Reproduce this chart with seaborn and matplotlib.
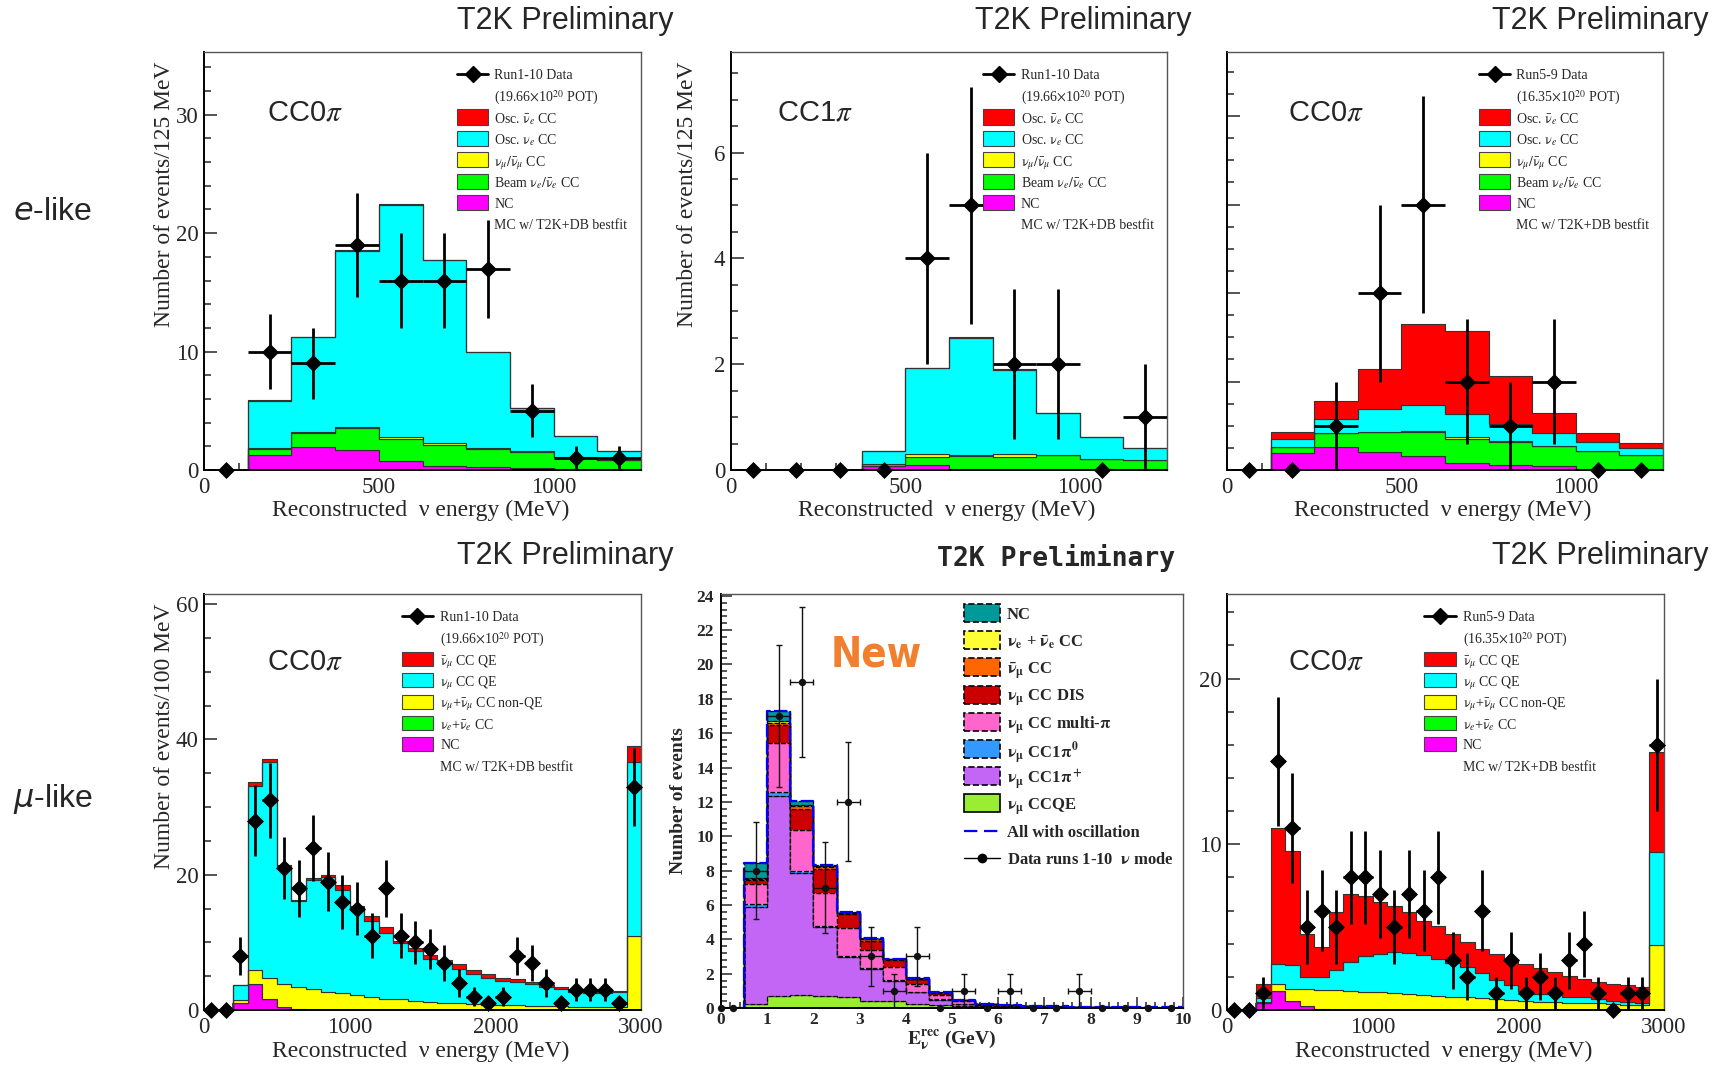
#!/usr/bin/env python3

import matplotlib
matplotlib.use("Agg")
import matplotlib.pyplot as plt
from matplotlib import font_manager
from matplotlib.lines import Line2D
from matplotlib.patches import Rectangle
from matplotlib.ticker import MultipleLocator, NullFormatter
import numpy as np
import pandas as pd
import seaborn as sns

SERIF = ["Liberation Serif", "DejaVu Serif"]
SANS = ["Liberation Sans", "DejaVu Sans"]

# ROOT colours
RED, CYAN, YELLOW, GREEN, MAGENTA = "#ff0000", "#00ffff", "#ffff00", "#00ff00", "#ff00ff"

# ------------------------------------------------------------ e-like samples
e_edges = np.arange(0, 1251, 125)  # MeV, 125 MeV bins

# CC0pi, neutrino mode (Run1-10); MC layers listed top -> bottom
e0_data = [0, 10, 9, 19, 16, 16, 17, 5, 1, 1]
e0_osc_nuebar = [0, 0.02, 0.03, 0.05, 0.05, 0.04, 0.03, 0.02, 0.01, 0.01]
e0_osc_nue = [0, 4.02, 8.0, 14.87, 19.6, 15.45, 8.09, 3.61, 1.72, 0.73]
e0_numu = [0, 0.03, 0.05, 0.08, 0.15, 0.15, 0.06, 0.04, 0.03, 0.02]
e0_beam = [0, 0.55, 1.25, 1.85, 1.85, 1.75, 1.58, 1.4, 1.0, 0.8]
e0_nc = [0, 1.25, 1.9, 1.7, 0.8, 0.35, 0.22, 0.15, 0.1, 0.05]

# CC1pi, neutrino mode (Run1-10)
e1_data = [0, 0, 0, 0, 4, 5, 2, 2, 0, 1]
e1_osc_nuebar = [0, 0, 0, 0, 0.01, 0.01, 0.01, 0.0, 0.0, 0.0]
e1_osc_nue = [0, 0, 0, 0.24, 1.62, 2.22, 1.59, 0.78, 0.43, 0.23]
e1_numu = [0, 0, 0, 0.0, 0.06, 0.02, 0.05, 0.01, 0.0, 0.0]
e1_beam = [0, 0, 0, 0.04, 0.15, 0.24, 0.24, 0.27, 0.19, 0.17]
e1_nc = [0, 0, 0, 0.08, 0.09, 0.02, 0.01, 0.01, 0.01, 0.01]

# CC0pi, antineutrino mode (Run5-9)
eb_data = [0, 0, 1, 4, 6, 2, 1, 2, 0, 0]
eb_osc_nuebar = [0, 0.15, 0.41, 0.92, 1.82, 1.88, 1.08, 0.44, 0.2, 0.13]
eb_osc_nue = [0, 0.18, 0.32, 0.51, 0.58, 0.51, 0.4, 0.3, 0.2, 0.15]
eb_numu = [0, 0.0, 0.0, 0.0, 0.03, 0.04, 0.01, 0.0, 0.0, 0.0]
eb_beam = [0, 0.15, 0.32, 0.45, 0.54, 0.56, 0.53, 0.46, 0.41, 0.32]
eb_nc = [0, 0.38, 0.51, 0.41, 0.32, 0.15, 0.11, 0.08, 0.03, 0.02]

# ------------------------------------------------------------ mu-like samples
m_edges = np.arange(0, 3001, 100)  # MeV, 100 MeV bins, last bin = overflow

# neutrino mode (Run1-10)
mn_data = [0, 0, 8, 28, 31, 21, 18, 24, 19, 16, 15, 11, 18, 11, 10,
           9, 7, 4, 2, 1, 2, 8, 7, 4, 1, 3, 3, 3, 1, 33]
mn_numubar_qe = [0, 0, 0, 0.6, 0.4, 0.1, 0.1, 0.3, 0.4, 0.8, 0.5, 0.8, 0.9, 0.3, 0.3,
                 0.7, 0.5, 0.75, 0.5, 0.6, 0.5, 0.4, 0.3, 0.25, 0.25, 0.25, 0.25, 0.25, 0.2, 2.4]
mn_numu_qe = [0, 0, 2.2, 27.2, 32.0, 17.45, 12.75, 16.05, 16.9, 15.25, 12.7, 11.1, 9.7, 8.3, 7.4,
              6.3, 5.8, 5.0, 4.5, 4.0, 3.55, 3.5, 3.15, 2.85, 2.55, 2.2, 2.1, 2.05, 2.2, 25.8]
mn_nonqe = [0, 0, 0.4, 2.05, 3.1, 3.35, 3.15, 3.1, 2.68, 2.45, 2.2, 2.0, 1.7, 1.6, 1.4,
            1.2, 1.1, 1.0, 0.9, 0.8, 0.75, 0.7, 0.65, 0.6, 0.55, 0.5, 0.45, 0.4, 0.4, 10.9]
mn_nue = [0] * 30
mn_nc = [0, 0, 1.1, 3.85, 1.6, 0.5, 0.2, 0.05, 0.02] + [0] * 21

# antineutrino mode (Run5-9)
mb_data = [0, 0, 1, 15, 11, 5, 6, 5, 8, 8, 7, 5, 7, 6, 8,
           3, 2, 6, 1, 3, 1, 2, 1, 3, 4, 1, 0, 1, 1, 16]
mb_numubar_qe = [0, 0, 0.87, 8.2, 6.9, 2.63, 1.83, 3.5, 4.1, 3.65, 3.1, 2.8, 2.45, 2.1, 2.05,
                 1.75, 1.5, 1.45, 1.6, 1.55, 1.63, 1.6, 1.35, 1.25, 1.07, 1.02, 1.04, 1.0, 0.97, 6.05]
mb_numu_qe = [0, 0, 0.2, 1.23, 1.45, 0.72, 0.77, 1.2, 1.73, 2.15, 2.33, 2.5, 2.5, 2.4, 2.2,
              2.05, 1.84, 1.55, 1.14, 0.9, 0.62, 0.45, 0.45, 0.35, 0.35, 0.25, 0.21, 0.2, 0.1, 5.65]
mb_nonqe = [0, 0, 0.1, 0.4, 0.69, 1.01, 1.15, 1.18, 1.17, 1.1, 1.07, 1.0, 0.95, 0.9, 0.85,
            0.8, 0.76, 0.7, 0.66, 0.6, 0.55, 0.5, 0.5, 0.45, 0.45, 0.4, 0.35, 0.3, 0.3, 3.9]
mb_nue = [0] * 30
mb_nc = [0, 0, 0.4, 1.17, 0.56, 0.24, 0.05, 0.02] + [0] * 22

# ------------------------------------------------------------ new numu sample (GeV)
n_edges = np.arange(0, 10.01, 0.5)
n_data_e = [0.0, 0.25, 0.75, 1.25, 1.75, 2.25, 2.75, 3.25, 3.75, 4.25, 4.75,
            5.25, 5.75, 6.25, 6.75, 7.25, 7.75, 8.25, 8.75, 9.25, 9.75]
n_data = [0, 0, 8, 17, 19, 7, 12, 3, 1, 3, 0, 1, 0, 1, 0, 0, 1, 0, 0, 0, 0]
n_nc = [0, 0.87, 0.57, 0.27, 0.06, 0.02, 0.05, 0.02, 0.03, 0.03, 0.02,
        0.02, 0.02, 0.02, 0.02, 0.02, 0.01, 0.01, 0.01, 0.01]
n_nue = [0, 0.04, 0.1, 0.06, 0.04, 0.04, 0.02, 0.01, 0.01, 0.01, 0,
         0, 0, 0, 0, 0, 0, 0, 0, 0]
n_numubar = [0, 0.06, 0.1, 0.14, 0.1, 0.07, 0.07, 0.03, 0.03, 0.02, 0.01,
             0.01, 0.01, 0, 0, 0, 0, 0, 0, 0]
n_dis = [0, 0.23, 1.07, 1.23, 1.4, 0.8, 0.58, 0.43, 0.26, 0.13, 0.06,
         0.04, 0.03, 0.02, 0.02, 0.01, 0.01, 0.01, 0, 0]
n_multipi = [0, 1.16, 2.83, 2.37, 1.9, 1.63, 1.01, 0.73, 0.46, 0.24, 0.17,
             0.08, 0.06, 0.03, 0.02, 0.01, 0.01, 0.01, 0.01, 0.01]
n_1pi0 = [0, 0.17, 0.24, 0.15, 0.1, 0.05, 0.05, 0.05, 0.02, 0.02, 0.01,
          0, 0, 0, 0, 0, 0, 0, 0, 0]
n_1pip = [0, 5.65, 11.66, 7.11, 4.02, 2.33, 1.89, 1.21, 0.68, 0.33, 0.11,
          0.04, 0.03, 0.02, 0.02, 0.01, 0.01, 0.01, 0.01, 0.01]
n_ccqe = [0, 0.25, 0.7, 0.74, 0.68, 0.64, 0.4, 0.39, 0.25, 0.15, 0.1,
          0.06, 0.05, 0.03, 0.02, 0.02, 0.01, 0.01, 0.01, 0.01]

E_COLORS = [RED, CYAN, YELLOW, GREEN, MAGENTA]
E_LABELS = [r"Osc. $\bar{\mathrm{\nu}}_e$ CC", r"Osc. $\mathrm{\nu}_e$ CC",
            r"$\mathrm{\nu}_\mu/\bar{\mathrm{\nu}}_\mu$ CC",
            r"Beam $\mathrm{\nu}_e/\bar{\mathrm{\nu}}_e$ CC", "NC"]
M_LABELS = [r"$\bar{\mathrm{\nu}}_\mu$ CC QE", r"$\mathrm{\nu}_\mu$ CC QE",
            r"$\mathrm{\nu}_\mu$+$\bar{\mathrm{\nu}}_\mu$ CC non-QE",
            r"$\mathrm{\nu}_e$+$\bar{\mathrm{\nu}}_e$ CC", "NC"]
N_COLORS = ["#009999", "#ffff33", "#ff6600", "#cc0000", "#ff66cc", "#3399ff", "#c466f5", "#99ee33"]
N_LABELS = ["NC", r"$\mathbf{\nu_e}$ + $\mathbf{\bar{\nu}_e}$ CC", r"$\mathbf{\bar{\nu}_\mu}$ CC",
            r"$\mathbf{\nu_\mu}$ CC DIS", r"$\mathbf{\nu_\mu}$ CC multi-$\mathbf{\pi}$",
            r"$\mathbf{\nu_\mu}$ CC1$\mathbf{\pi^0}$", r"$\mathbf{\nu_\mu}$ CC1$\mathbf{\pi^+}$",
            r"$\mathbf{\nu_\mu}$ CCQE"]

WEIGHTS = {"bold": 700, "semibold": 600, "demibold": 600, "heavy": 800, "black": 900,
           "extra bold": 800, "ultrabold": 800}


def narrow_font():
    # the "New" stamp is a bold condensed sans; use one if the machine has it
    cands = []
    for f in font_manager.fontManager.ttflist:
        w = f.weight if isinstance(f.weight, int) else WEIGHTS.get(str(f.weight).lower(), 400)
        narrow = ("Narrow" in f.name or "Condensed" in f.name
                  or str(f.stretch) in ("condensed", "semi-condensed", "extra-condensed"))
        if narrow:
            cands.append((w >= 600, f))
    cands.sort(key=lambda c: not c[0])
    if cands:
        f = cands[0][1]
        return {"family": f.name, "fontstretch": f.stretch}, 30
    return {"family": "DejaVu Sans"}, 27


def draw_stack(ax, edges, layers, colors, **kws):
    # layers go from top of the stack to the bottom
    centers = 0.5 * (edges[1:] + edges[:-1])
    names = [f"c{i}" for i in range(len(layers))]
    df = pd.concat([pd.DataFrame({"E": centers, "n": vals, "comp": name})
                    for name, vals in zip(names, layers)], ignore_index=True)
    sns.histplot(data=df, x="E", weights="n", hue="comp", hue_order=names,
                 palette=dict(zip(names, colors)), multiple="stack", bins=list(edges),
                 element="step", alpha=1, legend=False, ax=ax, **kws)


def draw_data(ax, x, counts, half_width, marker="D", size=75, lw=2.0,
              color="black", capsize=0):
    x = np.asarray(x, dtype=float)
    counts = np.asarray(counts, dtype=float)
    xerr = np.where(counts > 0, half_width, 0.0)
    ax.errorbar(x, counts, yerr=np.sqrt(counts), xerr=xerr, fmt="none",
                ecolor=color, elinewidth=lw, capsize=capsize, capthick=lw, zorder=5)
    sns.scatterplot(x=x, y=counts, marker=marker, s=size, color=color,
                    edgecolor=color, linewidth=0, ax=ax, zorder=6,
                    clip_on=False, legend=False)


def frame(ax, xlim, ylim, xmaj, xmin, ymaj, ymin, size=16.5, weight="normal"):
    ax.set_xlim(*xlim)
    ax.set_ylim(*ylim)
    ax.xaxis.set_major_locator(MultipleLocator(xmaj))
    ax.xaxis.set_minor_locator(MultipleLocator(xmin))
    ax.yaxis.set_major_locator(MultipleLocator(ymaj))
    ax.yaxis.set_minor_locator(MultipleLocator(ymin))
    ax.tick_params(which="both", direction="in", top=False, right=False,
                   width=1.1, labelsize=size)
    ax.tick_params(which="major", length=9.5)
    ax.tick_params(which="minor", length=5)
    ax.tick_params(axis="x", pad=5)
    ax.tick_params(axis="y", pad=4)
    for lab in ax.get_xticklabels() + ax.get_yticklabels():
        lab.set_fontweight(weight)
    for side in ("left", "bottom"):
        ax.spines[side].set_linewidth(1.4)
        ax.spines[side].set_color("black")
    for side in ("top", "right"):
        ax.spines[side].set_linewidth(1.0)
        ax.spines[side].set_color("#555555")
    ax.set_facecolor("white")


def root_legend(ax, xh, xt, y0, dy, w, h, rows, size, weight="normal"):
    for i, (kind, label, style) in enumerate(rows):
        y = y0 - i * dy
        if kind == "patch":
            ax.add_patch(Rectangle((xh, y - h / 2), w, h, transform=ax.transAxes,
                                   clip_on=False, zorder=7, **style))
        elif kind == "data":
            ax.add_line(Line2D([xh, xh + w], [y, y], transform=ax.transAxes,
                               clip_on=False, color="black", lw=style.get("lw", 2.0)))
            ax.add_line(Line2D([xh + w / 2], [y], transform=ax.transAxes,
                               clip_on=False, color="black", **style.get("mk", {})))
        elif kind == "line":
            ax.add_line(Line2D([xh, xh + w], [y, y], transform=ax.transAxes,
                               clip_on=False, **style))
        ax.text(xt, y, label, transform=ax.transAxes, ha="left", va="center_baseline",
                fontsize=size, weight=weight, family=SERIF)


def e_like_legend(ax, run, pot):
    rows = [("data", run, {"mk": {"marker": "D", "markersize": 8.5}}), ("text", pot, {})]
    rows += [("patch", lab, {"facecolor": c, "edgecolor": "#444444", "linewidth": 0.8})
             for lab, c in zip(E_LABELS, E_COLORS)]
    rows += [("text", "MC w/ T2K+DB bestfit", {})]
    root_legend(ax, 0.579, 0.664, 0.947, 0.0513, 0.071, 0.036, rows, 10)


def mu_like_legend(ax, run, pot):
    rows = [("data", run, {"mk": {"marker": "D", "markersize": 8.5}}), ("text", pot, {})]
    rows += [("patch", lab, {"facecolor": c, "edgecolor": "#444444", "linewidth": 0.8})
             for lab, c in zip(M_LABELS, E_COLORS)]
    rows += [("text", "MC w/ T2K+DB bestfit", {})]
    root_legend(ax, 0.452, 0.540, 0.947, 0.0514, 0.071, 0.034, rows, 10)


sns.set_style("ticks")
plt.rcParams["font.family"] = SERIF
plt.rcParams["mathtext.fontset"] = "stix"

fig = plt.figure(figsize=(17.16, 10.65), dpi=100, facecolor="white")

ax1 = fig.add_axes([0.1189, 0.5587, 0.2547, 0.3925])
ax2 = fig.add_axes([0.4260, 0.5587, 0.2541, 0.3925])
ax3 = fig.add_axes([0.7150, 0.5587, 0.2541, 0.3925])
ax4 = fig.add_axes([0.1189, 0.0516, 0.2547, 0.3906])
ax5 = fig.add_axes([0.4202, 0.0535, 0.2692, 0.3887])
ax6 = fig.add_axes([0.7150, 0.0516, 0.2547, 0.3906])

stack_kw = dict(edgecolor="#333333", linewidth=0.8)
e_centers = 0.5 * (e_edges[1:] + e_edges[:-1])
m_centers = 0.5 * (m_edges[1:] + m_edges[:-1])

# --- e-like CC0pi nu
draw_stack(ax1, e_edges, [e0_osc_nuebar, e0_osc_nue, e0_numu, e0_beam, e0_nc], E_COLORS, **stack_kw)
draw_data(ax1, e_centers, e0_data, 62.5)
frame(ax1, (0, 1250), (0, 35.3), 500, 100, 10, 2)
e_like_legend(ax1, "Run1-10 Data", r"(19.66$\times$10$^{20}$ POT)")

# --- e-like CC1pi nu
draw_stack(ax2, e_edges, [e1_osc_nuebar, e1_osc_nue, e1_numu, e1_beam, e1_nc], E_COLORS, **stack_kw)
draw_data(ax2, e_centers, e1_data, 62.5)
frame(ax2, (0, 1250), (0, 7.9), 500, 100, 2, 0.5)
e_like_legend(ax2, "Run1-10 Data", r"(19.66$\times$10$^{20}$ POT)")

# --- e-like CC0pi anti-nu
draw_stack(ax3, e_edges, [eb_osc_nuebar, eb_osc_nue, eb_numu, eb_beam, eb_nc], E_COLORS, **stack_kw)
draw_data(ax3, e_centers, eb_data, 62.5)
frame(ax3, (0, 1250), (0, 9.45), 500, 100, 2, 0.5)
ax3.yaxis.set_major_formatter(NullFormatter())
e_like_legend(ax3, "Run5-9 Data", r"(16.35$\times$10$^{20}$ POT)")

# --- mu-like nu
draw_stack(ax4, m_edges, [mn_numubar_qe, mn_numu_qe, mn_nonqe, mn_nue, mn_nc], E_COLORS, **stack_kw)
draw_data(ax4, m_centers, mn_data, 50)
frame(ax4, (0, 3000), (0, 61.5), 1000, 200, 20, 5)
mu_like_legend(ax4, "Run1-10 Data", r"(19.66$\times$10$^{20}$ POT)")

# --- mu-like anti-nu
draw_stack(ax6, m_edges, [mb_numubar_qe, mb_numu_qe, mb_nonqe, mb_nue, mb_nc], E_COLORS, **stack_kw)
draw_data(ax6, m_centers, mb_data, 50)
frame(ax6, (0, 3000), (0, 25.1), 1000, 200, 10, 2)
mu_like_legend(ax6, "Run5-9 Data", r"(16.35$\times$10$^{20}$ POT)")

# --- new numu sample
n_layers = [n_nc, n_nue, n_numubar, n_dis, n_multipi, n_1pi0, n_1pip, n_ccqe]
draw_stack(ax5, n_edges, n_layers, N_COLORS, edgecolor="black", linewidth=0.9, linestyle="--")
n_total = np.sum(np.array(n_layers), axis=0)
sns.histplot(x=0.5 * (n_edges[1:] + n_edges[:-1]), weights=n_total, bins=list(n_edges),
             element="step", fill=False, color="#0000ff", linewidth=1.6,
             linestyle=(0, (6, 1.5)), ax=ax5)
draw_data(ax5, n_data_e, n_data, 0.25, marker="o", size=28, lw=1.0, color="#111111", capsize=2)
frame(ax5, (0, 10), (0, 24.1), 1, 0.2, 2, 0.4, size=12.5, weight="bold")
ax5.tick_params(which="major", length=8)
ax5.tick_params(which="minor", length=4)
ax5.tick_params(axis="y", pad=5)
ax5.tick_params(axis="x", pad=3)
n_rows = [("patch", lab, {"facecolor": c, "edgecolor": "black", "linewidth": 1.2,
                          "linestyle": "-" if lab.endswith("CCQE") else "--"})
          for lab, c in zip(N_LABELS, N_COLORS)]
n_rows += [("line", "All with oscillation", {"color": "#0000ff", "lw": 1.6, "linestyle": (0, (6, 3))}),
           ("data", r"Data runs 1-10  $\mathbf{\nu}$ mode",
            {"lw": 1.0, "mk": {"marker": "o", "markersize": 6}})]
root_legend(ax5, 0.525, 0.619, 0.954, 0.0657, 0.078, 0.0435, n_rows, 12, weight="bold")
new_font, new_size = narrow_font()
ax5.text(0.238, 0.824, "New", transform=ax5.transAxes, fontsize=new_size, weight="bold",
         color="#f08030", va="baseline", **new_font)

# axis titles
for ax in (ax1, ax2):
    ax.set_ylabel("Number of events/125 MeV", fontsize=17, loc="top")
ax4.set_ylabel("Number of events/100 MeV", fontsize=17, loc="top")
for ax, xpos in ((ax1, -0.09), (ax2, -0.10), (ax4, -0.09)):
    ax.yaxis.label.set_va("center")
    ax.yaxis.set_label_coords(xpos, 0.978)
ax3.set_ylabel("")
ax6.set_ylabel("")
for ax in (ax1, ax2, ax3, ax4, ax6):
    ax.set_xlabel("Reconstructed  ν energy (MeV)", fontsize=17)
    ax.xaxis.label.set_va("center")
for ax in (ax1, ax2, ax3):
    ax.xaxis.set_label_coords(0.495, -0.096)
for ax in (ax4, ax6):
    ax.xaxis.set_label_coords(0.495, -0.10)
ax5.set_ylabel("Number of events", fontsize=14, weight="bold")
ax5.yaxis.label.set_va("center")
ax5.yaxis.set_label_coords(-0.093, 0.5)
ax5.set_xlabel(r"$\mathbf{E}_{\mathbf{\nu}}^{\mathbf{rec}}$ (GeV)", fontsize=14, weight="bold")
ax5.xaxis.label.set_va("center")
ax5.xaxis.set_label_coords(0.5, -0.077)

# sample labels inside the frames
for ax, lab, x, y in ((ax1, "CC0", 0.1435, 0.837), (ax2, "CC1", 0.106, 0.837),
                      (ax3, "CC0", 0.141, 0.837), (ax4, "CC0", 0.1435, 0.819),
                      (ax6, "CC0", 0.140, 0.819)):
    ax.text(x, y, lab + r"$\pi$", transform=ax.transAxes, fontsize=21, family=SANS,
            va="baseline", ha="left")

# banners
for x, y in ((0.3922, 0.980), (0.6941, 0.980), (0.9959, 0.980), (0.3922, 0.478), (0.9959, 0.478)):
    fig.text(x, y, "T2K Preliminary", ha="right", va="center", fontsize=22, family=SANS)
fig.text(0.6847, 0.476, "T2K Preliminary", ha="right", va="center", fontsize=19,
         family="DejaVu Sans Mono", weight="bold")

fig.text(0.0076, 0.801, r"$e$-like", fontsize=23, family=SANS, math_fontfamily="dejavusans",
         va="center", ha="left")
fig.text(0.0076, 0.2498, r"$\mu$-like", fontsize=23, family=SANS, math_fontfamily="dejavusans",
         va="center", ha="left")

fig.savefig("out.png", dpi=100, facecolor="white")
